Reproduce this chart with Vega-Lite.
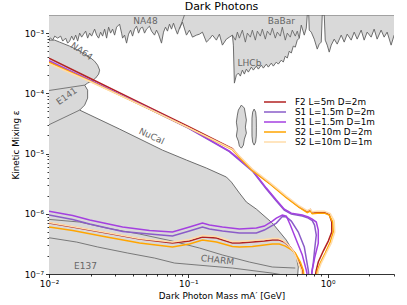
{
"$schema":"https://vega.github.io/schema/vega-lite/v6.json",
"width":345,"height":259,
"autosize":{"type":"none"},
"padding":{"left":49,"top":15,"right":13,"bottom":31},
"title":{"text":"Dark Photons","fontSize":11,"fontWeight":"normal","font":"DejaVu Sans","offset":3,"anchor":"middle","color":"black","frame":"group"},
"config":{"font":"DejaVu Sans","view":{"stroke":null},
 "axis":{"domainColor":"black","tickColor":"black","labelColor":"black","titleColor":"black","labelFontSize":8.8,"titleFontSize":8.8,"titleFontWeight":"normal","grid":false,"domainWidth":0.8,"tickWidth":0.8,"labelFont":"DejaVu Sans","titleFont":"DejaVu Sans"}},
"datasets":{
"regions":[
{"id":"top","i":1,"m":0.0093,"e":7.09e-4},{"id":"top","i":2,"m":0.01028,"e":8.26e-4},{"id":"top","i":3,"m":0.01063,"e":7.65e-4},{"id":"top","i":4,"m":0.01099,"e":8.92e-4},{"id":"top","i":5,"m":0.01154,"e":8.26e-4},{"id":"top","i":6,"m":0.01213,"e":8.92e-4},{"id":"top","i":7,"m":0.01254,"e":7.37e-4},{"id":"top","i":8,"m":0.01317,"e":8.26e-4},{"id":"top","i":9,"m":0.01361,"e":6.82e-4},{"id":"top","i":10,"m":0.01407,"e":7.37e-4},
{"id":"top","i":11,"m":0.01455,"e":8.92e-4},{"id":"top","i":12,"m":0.01503,"e":7.65e-4},{"id":"top","i":13,"m":0.01554,"e":9.26e-4},{"id":"top","i":14,"m":0.01606,"e":7.37e-4},{"id":"top","i":15,"m":0.0166,"e":1.0e-3},{"id":"top","i":16,"m":0.01715,"e":8.58e-4},{"id":"top","i":17,"m":0.01773,"e":9.62e-4},{"id":"top","i":18,"m":0.01833,"e":1.079e-3},{"id":"top","i":19,"m":0.01894,"e":8.26e-4},{"id":"top","i":20,"m":0.01958,"e":1.0e-3},
{"id":"top","i":21,"m":0.02023,"e":8.92e-4},{"id":"top","i":22,"m":0.02126,"e":1.165e-3},{"id":"top","i":23,"m":0.02197,"e":9.26e-4},{"id":"top","i":24,"m":0.02271,"e":8.26e-4},{"id":"top","i":25,"m":0.02347,"e":1.039e-3},{"id":"top","i":26,"m":0.02426,"e":8.92e-4},{"id":"top","i":27,"m":0.02508,"e":1.165e-3},{"id":"top","i":28,"m":0.02592,"e":8.26e-4},{"id":"top","i":29,"m":0.02678,"e":1.257e-3},{"id":"top","i":30,"m":0.02768,"e":1.0e-3},
{"id":"top","i":31,"m":0.02861,"e":1.165e-3},{"id":"top","i":32,"m":0.02958,"e":9.26e-4},{"id":"top","i":33,"m":0.03057,"e":1.257e-3},{"id":"top","i":34,"m":0.03212,"e":1.41e-3},{"id":"top","i":35,"m":0.0332,"e":1.0e-3},{"id":"top","i":36,"m":0.03375,"e":8.26e-4},{"id":"top","i":37,"m":0.03488,"e":9.26e-4},{"id":"top","i":38,"m":0.03605,"e":6.82e-4},{"id":"top","i":39,"m":0.03726,"e":9.62e-4},{"id":"top","i":40,"m":0.03851,"e":1.121e-3},
{"id":"top","i":41,"m":0.03981,"e":8.92e-4},{"id":"top","i":42,"m":0.04114,"e":1.165e-3},{"id":"top","i":43,"m":0.04252,"e":1.306e-3},{"id":"top","i":44,"m":0.04395,"e":1.0e-3},{"id":"top","i":45,"m":0.04542,"e":1.21e-3},{"id":"top","i":46,"m":0.04695,"e":1.257e-3},{"id":"top","i":47,"m":0.04853,"e":1.0e-3},{"id":"top","i":48,"m":0.05015,"e":1.165e-3},{"id":"top","i":49,"m":0.0527,"e":1.306e-3},{"id":"top","i":50,"m":0.05447,"e":1.079e-3},
{"id":"top","i":51,"m":0.05723,"e":9.26e-4},{"id":"top","i":52,"m":0.05915,"e":1.121e-3},{"id":"top","i":53,"m":0.06113,"e":9.62e-4},{"id":"top","i":54,"m":0.06424,"e":6.82e-4},{"id":"top","i":55,"m":0.0664,"e":1.039e-3},{"id":"top","i":56,"m":0.06862,"e":1.257e-3},{"id":"top","i":57,"m":0.07092,"e":1.079e-3},{"id":"top","i":58,"m":0.07331,"e":1.41e-3},{"id":"top","i":59,"m":0.07577,"e":1.165e-3},{"id":"top","i":60,"m":0.07831,"e":1.465e-3},
{"id":"top","i":61,"m":0.08094,"e":1.165e-3},{"id":"top","i":62,"m":0.08365,"e":9.62e-4},{"id":"top","i":63,"m":0.08646,"e":1.21e-3},{"id":"top","i":64,"m":0.09085,"e":1.522e-3},{"id":"top","i":65,"m":0.09705,"e":9.26e-4},{"id":"top","i":66,"m":0.102,"e":1.121e-3},{"id":"top","i":67,"m":0.1072,"e":8.58e-4},{"id":"top","i":68,"m":0.1145,"e":9.26e-4},{"id":"top","i":69,"m":0.1203,"e":9.62e-4},{"id":"top","i":70,"m":0.1264,"e":1.039e-3},
{"id":"top","i":71,"m":0.135,"e":7.09e-4},{"id":"top","i":72,"m":0.1419,"e":7.95e-4},{"id":"top","i":73,"m":0.1491,"e":9.26e-4},{"id":"top","i":74,"m":0.1592,"e":7.65e-4},{"id":"top","i":75,"m":0.1673,"e":9.62e-4},{"id":"top","i":76,"m":0.1758,"e":6.32e-4},{"id":"top","i":77,"m":0.1878,"e":7.95e-4},{"id":"top","i":78,"m":0.1974,"e":8.58e-4},{"id":"top","i":79,"m":0.2074,"e":9.26e-4},{"id":"top","i":80,"m":0.2108,"e":6.32e-4},
{"id":"top","i":81,"m":0.2143,"e":1.479e-4},{"id":"top","i":82,"m":0.2215,"e":2.008e-4},{"id":"top","i":83,"m":0.2289,"e":2.168e-4},{"id":"top","i":84,"m":0.2366,"e":1.933e-4},{"id":"top","i":85,"m":0.2446,"e":2.431e-4},{"id":"top","i":86,"m":0.2528,"e":2.087e-4},{"id":"top","i":87,"m":0.2613,"e":2.526e-4},{"id":"top","i":88,"m":0.27,"e":2.252e-4},{"id":"top","i":89,"m":0.2837,"e":2.726e-4},{"id":"top","i":90,"m":0.2933,"e":2.431e-4},
{"id":"top","i":91,"m":0.3081,"e":2.833e-4},{"id":"top","i":92,"m":0.3185,"e":2.526e-4},{"id":"top","i":93,"m":0.3347,"e":2.943e-4},{"id":"top","i":94,"m":0.3459,"e":2.624e-4},{"id":"top","i":95,"m":0.3635,"e":3.058e-4},{"id":"top","i":96,"m":0.3756,"e":2.726e-4},{"id":"top","i":97,"m":0.3947,"e":3.177e-4},{"id":"top","i":98,"m":0.408,"e":2.833e-4},{"id":"top","i":99,"m":0.4287,"e":3.301e-4},{"id":"top","i":100,"m":0.443,"e":3.058e-4},
{"id":"top","i":101,"m":0.4656,"e":3.563e-4},{"id":"top","i":102,"m":0.4812,"e":3.301e-4},{"id":"top","i":103,"m":0.4973,"e":4.151e-4},{"id":"top","i":104,"m":0.514,"e":3.846e-4},{"id":"top","i":105,"m":0.5313,"e":5.025e-4},{"id":"top","i":106,"m":0.5491,"e":4.656e-4},{"id":"top","i":107,"m":0.5675,"e":6.084e-4},{"id":"top","i":108,"m":0.5866,"e":5.856e-4},{"id":"top","i":109,"m":0.6062,"e":7.65e-4},{"id":"top","i":110,"m":0.6266,"e":8.26e-4},
{"id":"top","i":111,"m":0.6476,"e":1.357e-3},{"id":"top","i":112,"m":0.6805,"e":9.26e-4},{"id":"top","i":113,"m":0.7033,"e":1.21e-3},{"id":"top","i":114,"m":0.715,"e":2e-3},{"id":"top","i":115,"m":0.7329,"e":2e-3},{"id":"top","i":116,"m":0.739,"e":1.121e-3},{"id":"top","i":117,"m":0.7638,"e":1.039e-3},{"id":"top","i":118,"m":0.8027,"e":7.95e-4},{"id":"top","i":119,"m":0.8433,"e":5.425e-4},{"id":"top","i":120,"m":0.8716,"e":6.568e-4},
{"id":"top","i":121,"m":0.9009,"e":7.09e-4},{"id":"top","i":122,"m":0.9159,"e":2e-3},{"id":"top","i":123,"m":0.9467,"e":2e-3},{"id":"top","i":124,"m":0.9624,"e":7.65e-4},{"id":"top","i":125,"m":0.9946,"e":6.32e-4},{"id":"top","i":126,"m":1.0281,"e":4.837e-4},{"id":"top","i":127,"m":1.0626,"e":6.32e-4},{"id":"top","i":128,"m":1.1166,"e":7.95e-4},{"id":"top","i":129,"m":1.1732,"e":6.57e-4},{"id":"top","i":130,"m":1.2533,"e":9.26e-4},
{"id":"top","i":131,"m":1.317,"e":7.09e-4},{"id":"top","i":132,"m":1.3837,"e":9.62e-4},{"id":"top","i":133,"m":1.4783,"e":7.65e-4},{"id":"top","i":134,"m":1.5534,"e":1.039e-3},{"id":"top","i":135,"m":1.632,"e":7.95e-4},{"id":"top","i":136,"m":1.7435,"e":1.121e-3},{"id":"top","i":137,"m":1.832,"e":7.65e-4},{"id":"top","i":138,"m":1.9248,"e":1.039e-3},{"id":"top","i":139,"m":2.0563,"e":8.58e-4},{"id":"top","i":140,"m":2.1608,"e":1.165e-3},
{"id":"top","i":141,"m":2.2702,"e":7.95e-4},{"id":"top","i":142,"m":2.4254,"e":1.121e-3},{"id":"top","i":143,"m":2.5487,"e":8.58e-4},{"id":"top","i":144,"m":2.6777,"e":1.039e-3},{"id":"top","i":145,"m":2.8607,"e":6.32e-4},{"id":"top","i":146,"m":3.006,"e":9.26e-4},{"id":"top","i":147,"m":3.3,"e":9.26e-4},{"id":"top","i":148,"m":3.3,"e":2e-3},{"id":"top","i":149,"m":0.0093,"e":2e-3},
{"id":"low","i":1,"m":0.009,"e":7.65e-4},{"id":"low","i":2,"m":0.01099,"e":7.65e-4},{"id":"low","i":3,"m":0.01194,"e":7.08e-4},{"id":"low","i":4,"m":0.01406,"e":6.08e-4},{"id":"low","i":5,"m":0.0166,"e":5.02e-4},{"id":"low","i":6,"m":0.01958,"e":3.99e-4},{"id":"low","i":7,"m":0.02126,"e":3.42e-4},{"id":"low","i":8,"m":0.02234,"e":2.94e-4},{"id":"low","i":9,"m":0.0231,"e":2.43e-4},{"id":"low","i":10,"m":0.02271,"e":2.085e-4},
{"id":"low","i":11,"m":0.02161,"e":1.79e-4},{"id":"low","i":12,"m":0.02024,"e":1.6e-4},{"id":"low","i":13,"m":0.01894,"e":1.48e-4},{"id":"low","i":14,"m":0.01803,"e":1.37e-4},{"id":"low","i":15,"m":0.01894,"e":1.13e-4},{"id":"low","i":16,"m":0.01894,"e":8.33e-5},{"id":"low","i":17,"m":0.01803,"e":6.38e-5},{"id":"low","i":18,"m":0.0166,"e":5.27e-5},{"id":"low","i":19,"m":0.03213,"e":2.55e-5},{"id":"low","i":20,"m":0.06533,"e":1.14e-5},
{"id":"low","i":21,"m":0.09707,"e":7.8e-6},{"id":"low","i":22,"m":0.1351,"e":5.74e-6},{"id":"low","i":23,"m":0.1879,"e":4.07e-6},{"id":"low","i":24,"m":0.204,"e":3.36e-6},{"id":"low","i":25,"m":0.2328,"e":2.21e-6},{"id":"low","i":26,"m":0.2614,"e":1.565e-6},{"id":"low","i":27,"m":0.3083,"e":1.195e-6},{"id":"low","i":28,"m":0.4015,"e":7.01e-7},{"id":"low","i":29,"m":0.5058,"e":3.66e-7},{"id":"low","i":30,"m":0.5965,"e":1.917e-7},
{"id":"low","i":31,"m":0.6166,"e":1.306e-7},{"id":"low","i":32,"m":0.6065,"e":7.95e-8},{"id":"low","i":33,"m":0.009,"e":7.95e-8},
{"id":"blob1","i":1,"m":0.2406,"e":6.38e-5},{"id":"blob1","i":2,"m":0.2528,"e":5.69e-5},{"id":"blob1","i":3,"m":0.257,"e":4.53e-5},{"id":"blob1","i":4,"m":0.2613,"e":3.6e-5},{"id":"blob1","i":5,"m":0.257,"e":2.75e-5},{"id":"blob1","i":6,"m":0.2613,"e":2.19e-5},{"id":"blob1","i":7,"m":0.2528,"e":1.74e-5},{"id":"blob1","i":8,"m":0.2487,"e":1.38e-5},{"id":"blob1","i":9,"m":0.2406,"e":1.23e-5},{"id":"blob1","i":10,"m":0.2328,"e":1.33e-5},{"id":"blob1","i":11,"m":0.2289,"e":1.61e-5},{"id":"blob1","i":12,"m":0.2215,"e":1.95e-5},{"id":"blob1","i":13,"m":0.2252,"e":2.55e-5},{"id":"blob1","i":14,"m":0.2215,"e":3.33e-5},{"id":"blob1","i":15,"m":0.2252,"e":4.36e-5},{"id":"blob1","i":16,"m":0.2289,"e":5.27e-5},{"id":"blob1","i":17,"m":0.2406,"e":6.38e-5},
{"id":"blob2","i":1,"m":0.2971,"e":5.48e-5},{"id":"blob2","i":2,"m":0.3046,"e":4.88e-5},{"id":"blob2","i":3,"m":0.3077,"e":3.88e-5},{"id":"blob2","i":4,"m":0.3083,"e":2.75e-5},{"id":"blob2","i":5,"m":0.3077,"e":1.95e-5},{"id":"blob2","i":6,"m":0.3046,"e":1.551e-5},{"id":"blob2","i":7,"m":0.2971,"e":1.383e-5},{"id":"blob2","i":8,"m":0.2899,"e":1.551e-5},{"id":"blob2","i":9,"m":0.2868,"e":1.95e-5},{"id":"blob2","i":10,"m":0.2866,"e":2.75e-5},{"id":"blob2","i":11,"m":0.2868,"e":3.88e-5},{"id":"blob2","i":12,"m":0.2899,"e":4.88e-5},{"id":"blob2","i":13,"m":0.2971,"e":5.48e-5}
],
"edges":[
{"id":"e141a","i":1,"m":0.0093,"e":1.087e-4},{"id":"e141a","i":2,"m":0.01803,"e":1.37e-4},
{"id":"e141b","i":1,"m":0.0093,"e":2.78e-5},{"id":"e141b","i":2,"m":0.0166,"e":5.27e-5},
{"id":"charm","i":1,"m":0.0093,"e":8.18e-7},{"id":"charm","i":2,"m":0.0166,"e":7.29e-7},{"id":"charm","i":3,"m":0.02592,"e":5.79e-7},{"id":"charm","i":4,"m":0.04469,"e":4.61e-7},{"id":"charm","i":5,"m":0.077,"e":3.52e-7},{"id":"charm","i":6,"m":0.1203,"e":2.7e-7},{"id":"charm","i":7,"m":0.1759,"e":2.07e-7},{"id":"charm","i":8,"m":0.2747,"e":1.58e-7},{"id":"charm","i":9,"m":0.4015,"e":1.306e-7},{"id":"charm","i":10,"m":0.5868,"e":1.256e-7},
{"id":"e137","i":1,"m":0.0093,"e":4.11e-7},{"id":"e137","i":2,"m":0.0158,"e":3.39e-7},{"id":"e137","i":3,"m":0.02234,"e":2.81e-7},{"id":"e137","i":4,"m":0.03666,"e":2.23e-7},{"id":"e137","i":5,"m":0.05724,"e":1.84e-7},{"id":"e137","i":6,"m":0.07963,"e":1.52e-7},{"id":"e137","i":7,"m":0.2074,"e":1.256e-7},{"id":"e137","i":8,"m":0.4015,"e":1.034e-7},{"id":"e137","i":9,"m":0.5313,"e":9.26e-8},
{"id":"na48","i":1,"m":0.08646,"e":1.165e-3},{"id":"na48","i":2,"m":0.0939,"e":2e-3},
{"id":"babar","i":1,"m":0.2074,"e":9.26e-4},{"id":"babar","i":2,"m":0.2179,"e":7.65e-4},{"id":"babar","i":3,"m":0.2252,"e":1.039e-3},{"id":"babar","i":4,"m":0.2328,"e":8.26e-4},{"id":"babar","i":5,"m":0.2446,"e":1.121e-3},{"id":"babar","i":6,"m":0.257,"e":7.09e-4},{"id":"babar","i":7,"m":0.2656,"e":1.0e-3},{"id":"babar","i":8,"m":0.2791,"e":8.58e-4},{"id":"babar","i":9,"m":0.2885,"e":1.121e-3},{"id":"babar","i":10,"m":0.3031,"e":7.65e-4},{"id":"babar","i":11,"m":0.3133,"e":1.079e-3},{"id":"babar","i":12,"m":0.3292,"e":8.92e-4},{"id":"babar","i":13,"m":0.3402,"e":1.165e-3},{"id":"babar","i":14,"m":0.3575,"e":7.95e-4},{"id":"babar","i":15,"m":0.3695,"e":1.079e-3},{"id":"babar","i":16,"m":0.3882,"e":9.26e-4},{"id":"babar","i":17,"m":0.4013,"e":1.21e-3},{"id":"babar","i":18,"m":0.4216,"e":8.26e-4},{"id":"babar","i":19,"m":0.4358,"e":1.039e-3},{"id":"babar","i":20,"m":0.4579,"e":8.92e-4},{"id":"babar","i":21,"m":0.4733,"e":1.257e-3},{"id":"babar","i":22,"m":0.4973,"e":7.65e-4},{"id":"babar","i":23,"m":0.514,"e":1.0e-3},{"id":"babar","i":24,"m":0.5401,"e":8.58e-4},{"id":"babar","i":25,"m":0.5582,"e":1.121e-3},{"id":"babar","i":26,"m":0.5866,"e":8.92e-4},{"id":"babar","i":27,"m":0.6062,"e":1.079e-3},{"id":"babar","i":28,"m":0.6266,"e":8.26e-4}
],
"labels":[
{"t":"NA48","m":0.0493,"e":1.61e-3},{"t":"BaBar","m":0.466,"e":1.58e-3},{"t":"LHCb","m":0.275,"e":3.18e-4},{"t":"E137","m":0.0183,"e":1.36e-7},
{"t":"NA64","m":0.0172,"e":5.02e-4},{"t":"E141","m":0.0134,"e":8.99e-5},{"t":"NuCal","m":0.0545,"e":1.95e-5},{"t":"CHARM","m":0.162,"e":1.71e-7}
],
"curves":[
{"s":"F2 L=5m D=2m","i":1,"m":0.01,"e":3.84e-4},{"s":"F2 L=5m D=2m","i":2,"m":0.02,"e":1.75e-4},{"s":"F2 L=5m D=2m","i":3,"m":0.05,"e":6.19e-5},{"s":"F2 L=5m D=2m","i":4,"m":0.1,"e":2.82e-5},{"s":"F2 L=5m D=2m","i":5,"m":0.2074,"e":1.207e-5},{"s":"F2 L=5m D=2m","i":6,"m":0.2328,"e":8.74e-6},{"s":"F2 L=5m D=2m","i":7,"m":0.2886,"e":5.32e-6},{"s":"F2 L=5m D=2m","i":8,"m":0.382,"e":3.24e-6},{"s":"F2 L=5m D=2m","i":9,"m":0.5058,"e":1.9e-6},{"s":"F2 L=5m D=2m","i":10,"m":0.627,"e":1.296e-6},
{"s":"F2 L=5m D=2m","i":11,"m":0.7152,"e":1.086e-6},{"s":"F2 L=5m D=2m","i":12,"m":0.7516,"e":1.172e-6},{"s":"F2 L=5m D=2m","i":13,"m":0.7768,"e":1.025e-6},{"s":"F2 L=5m D=2m","i":14,"m":0.8437,"e":1.065e-6},{"s":"F2 L=5m D=2m","i":15,"m":0.9469,"e":1.065e-6},{"s":"F2 L=5m D=2m","i":16,"m":1.0285,"e":9.71e-7},{"s":"F2 L=5m D=2m","i":17,"m":1.072,"e":7.29e-7},{"s":"F2 L=5m D=2m","i":18,"m":1.072,"e":4.97e-7},{"s":"F2 L=5m D=2m","i":19,"m":1.012,"e":3.52e-7},{"s":"F2 L=5m D=2m","i":20,"m":0.9316,"e":2.405e-7},
{"s":"F2 L=5m D=2m","i":21,"m":0.858,"e":1.58e-7},{"s":"F2 L=5m D=2m","i":22,"m":0.83,"e":1.16e-7},{"s":"F2 L=5m D=2m","i":23,"m":0.807,"e":7.95e-8},{"s":"F2 L=5m D=2m","i":24,"m":0.6695,"e":7.95e-8},{"s":"F2 L=5m D=2m","i":25,"m":0.6585,"e":1.16e-7},{"s":"F2 L=5m D=2m","i":26,"m":0.6166,"e":1.71e-7},{"s":"F2 L=5m D=2m","i":27,"m":0.5772,"e":2.315e-7},{"s":"F2 L=5m D=2m","i":28,"m":0.5313,"e":2.91e-7},{"s":"F2 L=5m D=2m","i":29,"m":0.4894,"e":3.39e-7},{"s":"F2 L=5m D=2m","i":30,"m":0.4507,"e":3.66e-7},
{"s":"F2 L=5m D=2m","i":31,"m":0.4015,"e":3.66e-7},{"s":"F2 L=5m D=2m","i":32,"m":0.3518,"e":3.52e-7},{"s":"F2 L=5m D=2m","i":33,"m":0.2886,"e":3.39e-7},{"s":"F2 L=5m D=2m","i":34,"m":0.2328,"e":3.26e-7},{"s":"F2 L=5m D=2m","i":35,"m":0.2074,"e":3.26e-7},{"s":"F2 L=5m D=2m","i":36,"m":0.1593,"e":3.96e-7},{"s":"F2 L=5m D=2m","i":37,"m":0.1264,"e":4.11e-7},{"s":"F2 L=5m D=2m","i":38,"m":0.102,"e":3.52e-7},{"s":"F2 L=5m D=2m","i":39,"m":0.077,"e":3.26e-7},{"s":"F2 L=5m D=2m","i":40,"m":0.04469,"e":3.8e-7},
{"s":"F2 L=5m D=2m","i":41,"m":0.02592,"e":4.79e-7},{"s":"F2 L=5m D=2m","i":42,"m":0.01479,"e":6.02e-7},{"s":"F2 L=5m D=2m","i":43,"m":0.01,"e":7.01e-7},
{"s":"S1 L=1.5m D=2m","i":1,"m":0.01,"e":3.36e-4},{"s":"S1 L=1.5m D=2m","i":2,"m":0.02,"e":1.6e-4},{"s":"S1 L=1.5m D=2m","i":3,"m":0.05,"e":5.8e-5},{"s":"S1 L=1.5m D=2m","i":4,"m":0.1,"e":2.65e-5},{"s":"S1 L=1.5m D=2m","i":5,"m":0.1974,"e":1.076e-5},{"s":"S1 L=1.5m D=2m","i":6,"m":0.2886,"e":5.12e-6},{"s":"S1 L=1.5m D=2m","i":7,"m":0.3636,"e":2.57e-6},{"s":"S1 L=1.5m D=2m","i":8,"m":0.4289,"e":1.63e-6},{"s":"S1 L=1.5m D=2m","i":9,"m":0.4894,"e":1.15e-6},{"s":"S1 L=1.5m D=2m","i":10,"m":0.5493,"e":9.9e-7},
{"s":"S1 L=1.5m D=2m","i":11,"m":0.6585,"e":9.17e-7},{"s":"S1 L=1.5m D=2m","i":12,"m":0.7271,"e":8.49e-7},{"s":"S1 L=1.5m D=2m","i":13,"m":0.7768,"e":7.72e-7},{"s":"S1 L=1.5m D=2m","i":14,"m":0.807,"e":6.5e-7},{"s":"S1 L=1.5m D=2m","i":15,"m":0.83,"e":4.44e-7},{"s":"S1 L=1.5m D=2m","i":16,"m":0.807,"e":2.5e-7},{"s":"S1 L=1.5m D=2m","i":17,"m":0.7897,"e":1.52e-7},{"s":"S1 L=1.5m D=2m","i":18,"m":0.7703,"e":1.075e-7},{"s":"S1 L=1.5m D=2m","i":19,"m":0.7641,"e":7.95e-8},{"s":"S1 L=1.5m D=2m","i":20,"m":0.7393,"e":7.95e-8},
{"s":"S1 L=1.5m D=2m","i":21,"m":0.7271,"e":1.16e-7},{"s":"S1 L=1.5m D=2m","i":22,"m":0.6808,"e":2.81e-7},{"s":"S1 L=1.5m D=2m","i":23,"m":0.6166,"e":4.97e-7},{"s":"S1 L=1.5m D=2m","i":24,"m":0.5493,"e":7.57e-7},{"s":"S1 L=1.5m D=2m","i":25,"m":0.5058,"e":8.82e-7},{"s":"S1 L=1.5m D=2m","i":26,"m":0.4734,"e":9.0e-7},{"s":"S1 L=1.5m D=2m","i":27,"m":0.4289,"e":7.01e-7},{"s":"S1 L=1.5m D=2m","i":28,"m":0.3518,"e":5.37e-7},{"s":"S1 L=1.5m D=2m","i":29,"m":0.3083,"e":4.79e-7},{"s":"S1 L=1.5m D=2m","i":30,"m":0.2328,"e":4.79e-7},
{"s":"S1 L=1.5m D=2m","i":31,"m":0.1759,"e":5.17e-7},{"s":"S1 L=1.5m D=2m","i":32,"m":0.1419,"e":5.58e-7},{"s":"S1 L=1.5m D=2m","i":33,"m":0.1264,"e":6.02e-7},{"s":"S1 L=1.5m D=2m","i":34,"m":0.102,"e":5.17e-7},{"s":"S1 L=1.5m D=2m","i":35,"m":0.077,"e":4.27e-7},{"s":"S1 L=1.5m D=2m","i":36,"m":0.0527,"e":4.61e-7},{"s":"S1 L=1.5m D=2m","i":37,"m":0.03376,"e":5.07e-7},{"s":"S1 L=1.5m D=2m","i":38,"m":0.01958,"e":6.75e-7},{"s":"S1 L=1.5m D=2m","i":39,"m":0.01479,"e":8.02e-7},{"s":"S1 L=1.5m D=2m","i":40,"m":0.01,"e":9.53e-7},
{"s":"S1 L=1.5m D=1m","i":1,"m":0.01,"e":3.49e-4},{"s":"S1 L=1.5m D=1m","i":2,"m":0.02,"e":1.63e-4},{"s":"S1 L=1.5m D=1m","i":3,"m":0.05,"e":5.91e-5},{"s":"S1 L=1.5m D=1m","i":4,"m":0.1,"e":2.7e-5},{"s":"S1 L=1.5m D=1m","i":5,"m":0.1974,"e":1.097e-5},{"s":"S1 L=1.5m D=1m","i":6,"m":0.2886,"e":5.32e-6},{"s":"S1 L=1.5m D=1m","i":7,"m":0.3636,"e":2.67e-6},{"s":"S1 L=1.5m D=1m","i":8,"m":0.4289,"e":1.69e-6},{"s":"S1 L=1.5m D=1m","i":9,"m":0.4894,"e":1.195e-6},{"s":"S1 L=1.5m D=1m","i":10,"m":0.5493,"e":1.025e-6},
{"s":"S1 L=1.5m D=1m","i":11,"m":0.6585,"e":9.53e-7},{"s":"S1 L=1.5m D=1m","i":12,"m":0.7271,"e":8.82e-7},{"s":"S1 L=1.5m D=1m","i":13,"m":0.7768,"e":8.18e-7},{"s":"S1 L=1.5m D=1m","i":14,"m":0.83,"e":7.29e-7},{"s":"S1 L=1.5m D=1m","i":15,"m":0.858,"e":5.37e-7},{"s":"S1 L=1.5m D=1m","i":16,"m":0.858,"e":3.26e-7},{"s":"S1 L=1.5m D=1m","i":17,"m":0.807,"e":1.84e-7},{"s":"S1 L=1.5m D=1m","i":18,"m":0.7768,"e":1.16e-7},{"s":"S1 L=1.5m D=1m","i":19,"m":0.7641,"e":7.95e-8},{"s":"S1 L=1.5m D=1m","i":20,"m":0.7271,"e":7.95e-8},
{"s":"S1 L=1.5m D=1m","i":21,"m":0.7036,"e":1.16e-7},{"s":"S1 L=1.5m D=1m","i":22,"m":0.6585,"e":2.07e-7},{"s":"S1 L=1.5m D=1m","i":23,"m":0.5965,"e":3.66e-7},{"s":"S1 L=1.5m D=1m","i":24,"m":0.5403,"e":6.5e-7},{"s":"S1 L=1.5m D=1m","i":25,"m":0.5058,"e":9.17e-7},{"s":"S1 L=1.5m D=1m","i":26,"m":0.4734,"e":9.53e-7},{"s":"S1 L=1.5m D=1m","i":27,"m":0.4289,"e":8.49e-7},{"s":"S1 L=1.5m D=1m","i":28,"m":0.4015,"e":7.57e-7},{"s":"S1 L=1.5m D=1m","i":29,"m":0.3518,"e":6.25e-7},{"s":"S1 L=1.5m D=1m","i":30,"m":0.3083,"e":5.79e-7},
{"s":"S1 L=1.5m D=1m","i":31,"m":0.2328,"e":5.58e-7},{"s":"S1 L=1.5m D=1m","i":32,"m":0.1759,"e":6.02e-7},{"s":"S1 L=1.5m D=1m","i":33,"m":0.1419,"e":6.5e-7},{"s":"S1 L=1.5m D=1m","i":34,"m":0.1264,"e":7.01e-7},{"s":"S1 L=1.5m D=1m","i":35,"m":0.102,"e":6.02e-7},{"s":"S1 L=1.5m D=1m","i":36,"m":0.077,"e":4.97e-7},{"s":"S1 L=1.5m D=1m","i":37,"m":0.0527,"e":5.27e-7},{"s":"S1 L=1.5m D=1m","i":38,"m":0.03376,"e":6.02e-7},{"s":"S1 L=1.5m D=1m","i":39,"m":0.01958,"e":7.87e-7},{"s":"S1 L=1.5m D=1m","i":40,"m":0.01479,"e":9.35e-7},
{"s":"S1 L=1.5m D=1m","i":41,"m":0.01,"e":1.106e-6},
{"s":"S2 L=10m D=2m","i":1,"m":0.01,"e":3.3e-4},{"s":"S2 L=10m D=2m","i":2,"m":0.02,"e":1.57e-4},{"s":"S2 L=10m D=2m","i":3,"m":0.05,"e":5.8e-5},{"s":"S2 L=10m D=2m","i":4,"m":0.1,"e":2.7e-5},{"s":"S2 L=10m D=2m","i":5,"m":0.2074,"e":1.162e-5},{"s":"S2 L=10m D=2m","i":6,"m":0.2328,"e":8.58e-6},{"s":"S2 L=10m D=2m","i":7,"m":0.2886,"e":5.22e-6},{"s":"S2 L=10m D=2m","i":8,"m":0.382,"e":3.18e-6},{"s":"S2 L=10m D=2m","i":9,"m":0.5058,"e":1.86e-6},{"s":"S2 L=10m D=2m","i":10,"m":0.627,"e":1.273e-6},
{"s":"S2 L=10m D=2m","i":11,"m":0.7152,"e":1.045e-6},{"s":"S2 L=10m D=2m","i":12,"m":0.7516,"e":1.106e-6},{"s":"S2 L=10m D=2m","i":13,"m":0.7768,"e":1.006e-6},{"s":"S2 L=10m D=2m","i":14,"m":0.8437,"e":1.025e-6},{"s":"S2 L=10m D=2m","i":15,"m":0.9469,"e":1.025e-6},{"s":"S2 L=10m D=2m","i":16,"m":1.0285,"e":9.53e-7},{"s":"S2 L=10m D=2m","i":17,"m":1.0897,"e":7.29e-7},{"s":"S2 L=10m D=2m","i":18,"m":1.099,"e":4.97e-7},{"s":"S2 L=10m D=2m","i":19,"m":1.0457,"e":3.39e-7},{"s":"S2 L=10m D=2m","i":20,"m":0.9627,"e":2.23e-7},
{"s":"S2 L=10m D=2m","i":21,"m":0.8865,"e":1.52e-7},{"s":"S2 L=10m D=2m","i":22,"m":0.8437,"e":1.12e-7},{"s":"S2 L=10m D=2m","i":23,"m":0.83,"e":7.95e-8},{"s":"S2 L=10m D=2m","i":24,"m":0.6808,"e":7.95e-8},{"s":"S2 L=10m D=2m","i":25,"m":0.6695,"e":1.16e-7},{"s":"S2 L=10m D=2m","i":26,"m":0.6373,"e":1.58e-7},{"s":"S2 L=10m D=2m","i":27,"m":0.5868,"e":2.23e-7},{"s":"S2 L=10m D=2m","i":28,"m":0.5403,"e":2.6e-7},{"s":"S2 L=10m D=2m","i":29,"m":0.4975,"e":2.91e-7},{"s":"S2 L=10m D=2m","i":30,"m":0.4507,"e":3.14e-7},
{"s":"S2 L=10m D=2m","i":31,"m":0.4015,"e":3.14e-7},{"s":"S2 L=10m D=2m","i":32,"m":0.3518,"e":3.03e-7},{"s":"S2 L=10m D=2m","i":33,"m":0.2886,"e":2.86e-7},{"s":"S2 L=10m D=2m","i":34,"m":0.2328,"e":2.81e-7},{"s":"S2 L=10m D=2m","i":35,"m":0.2074,"e":2.86e-7},{"s":"S2 L=10m D=2m","i":36,"m":0.1593,"e":3.39e-7},{"s":"S2 L=10m D=2m","i":37,"m":0.1264,"e":3.66e-7},{"s":"S2 L=10m D=2m","i":38,"m":0.102,"e":3.14e-7},{"s":"S2 L=10m D=2m","i":39,"m":0.077,"e":2.81e-7},{"s":"S2 L=10m D=2m","i":40,"m":0.04469,"e":3.26e-7},
{"s":"S2 L=10m D=2m","i":41,"m":0.02592,"e":4.11e-7},{"s":"S2 L=10m D=2m","i":42,"m":0.01479,"e":5.27e-7},{"s":"S2 L=10m D=2m","i":43,"m":0.01,"e":6.02e-7},
{"s":"S2 L=10m D=1m","i":1,"m":0.01,"e":3.115e-4},{"s":"S2 L=10m D=1m","i":2,"m":0.02,"e":1.54e-4},{"s":"S2 L=10m D=1m","i":3,"m":0.05,"e":5.8e-5},{"s":"S2 L=10m D=1m","i":4,"m":0.1,"e":2.7e-5},{"s":"S2 L=10m D=1m","i":5,"m":0.2074,"e":1.184e-5},{"s":"S2 L=10m D=1m","i":6,"m":0.2328,"e":9.08e-6},{"s":"S2 L=10m D=1m","i":7,"m":0.2886,"e":5.53e-6},{"s":"S2 L=10m D=1m","i":8,"m":0.382,"e":3.36e-6},{"s":"S2 L=10m D=1m","i":9,"m":0.5058,"e":1.97e-6},{"s":"S2 L=10m D=1m","i":10,"m":0.627,"e":1.347e-6},
{"s":"S2 L=10m D=1m","i":11,"m":0.7152,"e":1.128e-6},{"s":"S2 L=10m D=1m","i":12,"m":0.7516,"e":1.195e-6},{"s":"S2 L=10m D=1m","i":13,"m":0.7768,"e":1.086e-6},{"s":"S2 L=10m D=1m","i":14,"m":0.8437,"e":1.106e-6},{"s":"S2 L=10m D=1m","i":15,"m":0.9469,"e":1.106e-6},{"s":"S2 L=10m D=1m","i":16,"m":1.0457,"e":1.006e-6},{"s":"S2 L=10m D=1m","i":17,"m":1.117,"e":7.57e-7},{"s":"S2 L=10m D=1m","i":18,"m":1.126,"e":4.97e-7},{"s":"S2 L=10m D=1m","i":19,"m":1.063,"e":3.26e-7},{"s":"S2 L=10m D=1m","i":20,"m":0.979,"e":2.23e-7},
{"s":"S2 L=10m D=1m","i":21,"m":0.9012,"e":1.52e-7},{"s":"S2 L=10m D=1m","i":22,"m":0.858,"e":1.12e-7},{"s":"S2 L=10m D=1m","i":23,"m":0.8437,"e":7.95e-8},{"s":"S2 L=10m D=1m","i":24,"m":0.6585,"e":7.95e-8},{"s":"S2 L=10m D=1m","i":25,"m":0.648,"e":1.16e-7},{"s":"S2 L=10m D=1m","i":26,"m":0.6065,"e":1.71e-7},{"s":"S2 L=10m D=1m","i":27,"m":0.5677,"e":2.405e-7},{"s":"S2 L=10m D=1m","i":28,"m":0.5228,"e":3.03e-7},{"s":"S2 L=10m D=1m","i":29,"m":0.4813,"e":3.59e-7},{"s":"S2 L=10m D=1m","i":30,"m":0.4432,"e":3.88e-7},
{"s":"S2 L=10m D=1m","i":31,"m":0.4015,"e":3.88e-7},{"s":"S2 L=10m D=1m","i":32,"m":0.3518,"e":3.73e-7},{"s":"S2 L=10m D=1m","i":33,"m":0.2886,"e":3.59e-7},{"s":"S2 L=10m D=1m","i":34,"m":0.2328,"e":3.46e-7},{"s":"S2 L=10m D=1m","i":35,"m":0.2074,"e":3.46e-7},{"s":"S2 L=10m D=1m","i":36,"m":0.1593,"e":4.19e-7},{"s":"S2 L=10m D=1m","i":37,"m":0.1264,"e":4.36e-7},{"s":"S2 L=10m D=1m","i":38,"m":0.102,"e":3.73e-7},{"s":"S2 L=10m D=1m","i":39,"m":0.077,"e":3.39e-7},{"s":"S2 L=10m D=1m","i":40,"m":0.04469,"e":3.88e-7},
{"s":"S2 L=10m D=1m","i":41,"m":0.02592,"e":4.88e-7},{"s":"S2 L=10m D=1m","i":42,"m":0.01479,"e":6.14e-7},{"s":"S2 L=10m D=1m","i":43,"m":0.01,"e":7.16e-7}
]
},
"encoding":{
 "x":{"field":"m","type":"quantitative","scale":{"type":"log","domain":[0.01,3]},
  "axis":{"title":"Dark Photon Mass mA′ [GeV]","values":[0.01,0.02,0.03,0.04,0.05,0.06,0.07,0.08,0.09,0.1,0.2,0.3,0.4,0.5,0.6,0.7,0.8,0.9,1,2,3],
   "labelExpr":"datum.value == 0.01 ? '10⁻²' : datum.value == 0.1 ? '10⁻¹' : datum.value == 1 ? '10⁰' : ''",
   "tickSize":{"condition":{"test":"datum.value == 0.01 || datum.value == 0.1 || datum.value == 1","value":3.5},"value":2},
   "labelPadding":2,"titlePadding":3,"labelFlush":false,"labelOverlap":false}},
 "y":{"field":"e","type":"quantitative","scale":{"type":"log","domain":[1e-7,2e-3]},
  "axis":{"title":"Kinetic Mixing ε","values":[1e-7,2e-7,3e-7,4e-7,5e-7,6e-7,7e-7,8e-7,9e-7,1e-6,2e-6,3e-6,4e-6,5e-6,6e-6,7e-6,8e-6,9e-6,1e-5,2e-5,3e-5,4e-5,5e-5,6e-5,7e-5,8e-5,9e-5,1e-4,2e-4,3e-4,4e-4,5e-4,6e-4,7e-4,8e-4,9e-4,1e-3],
   "labelExpr":"datum.value == 1e-7 ? '10⁻⁷' : datum.value == 1e-6 ? '10⁻⁶' : datum.value == 1e-5 ? '10⁻⁵' : datum.value == 1e-4 ? '10⁻⁴' : datum.value == 1e-3 ? '10⁻³' : ''",
   "tickSize":{"condition":{"test":"datum.value == 1e-7 || datum.value == 1e-6 || datum.value == 1e-5 || datum.value == 1e-4 || datum.value == 1e-3","value":3.5},"value":2},
   "labelPadding":2,"titlePadding":4,"labelFlush":false,"labelOverlap":false}}
},
"layer":[
 {"data":{"name":"regions"},"mark":{"type":"line","filled":true,"fill":"#d9d9d9","stroke":"#606060","strokeWidth":0.9,"clip":true},
  "encoding":{"detail":{"field":"id"},"order":{"field":"i","type":"quantitative"}}},
 {"data":{"name":"edges"},"mark":{"type":"line","stroke":"#606060","strokeWidth":0.8,"clip":true},
  "encoding":{"detail":{"field":"id"},"order":{"field":"i","type":"quantitative"}}},
 {"data":{"name":"labels"},"transform":[{"filter":"datum.t=='NA48' || datum.t=='BaBar' || datum.t=='LHCb' || datum.t=='E137'"}],"mark":{"type":"text","fontSize":9,"color":"#666666"},"encoding":{"text":{"field":"t"}}},
 {"data":{"name":"labels"},"transform":[{"filter":"datum.t=='NA64'"}],"mark":{"type":"text","fontSize":9,"color":"#666666","angle":35},"encoding":{"text":{"field":"t"}}},
 {"data":{"name":"labels"},"transform":[{"filter":"datum.t=='E141'"}],"mark":{"type":"text","fontSize":9,"color":"#666666","angle":325},"encoding":{"text":{"field":"t"}}},
 {"data":{"name":"labels"},"transform":[{"filter":"datum.t=='NuCal'"}],"mark":{"type":"text","fontSize":9,"color":"#666666","angle":25},"encoding":{"text":{"field":"t"}}},
 {"data":{"name":"labels"},"transform":[{"filter":"datum.t=='CHARM'"}],"mark":{"type":"text","fontSize":9,"color":"#666666","angle":7},"encoding":{"text":{"field":"t"}}},
 {"data":{"name":"curves"},"mark":{"type":"line","strokeWidth":1.5,"clip":true},
  "encoding":{"order":{"field":"i","type":"quantitative"},
   "color":{"field":"s","type":"nominal","scale":{"domain":["F2 L=5m D=2m","S1 L=1.5m D=2m","S1 L=1.5m D=1m","S2 L=10m D=2m","S2 L=10m D=1m"],"range":["#b22222","#8a5cc8","#a440e0","#ffa500","#ffdcaa"]},
    "legend":{"orient":"none","legendX":214,"legendY":82,"title":null,"symbolType":"stroke","symbolSize":484,"symbolStrokeWidth":1.5,"labelFontSize":8.8,"labelFont":"DejaVu Sans","labelColor":"black","clipHeight":9.8,"rowPadding":0,"labelOffset":8}}}},
 {"data":{"values":[{}]},"mark":{"type":"rect","filled":false,"color":"black","strokeWidth":0.8},
  "encoding":{"x":{"datum":0.01},"x2":{"datum":3},"y":{"datum":1e-7},"y2":{"datum":2e-3}}}
]
}
